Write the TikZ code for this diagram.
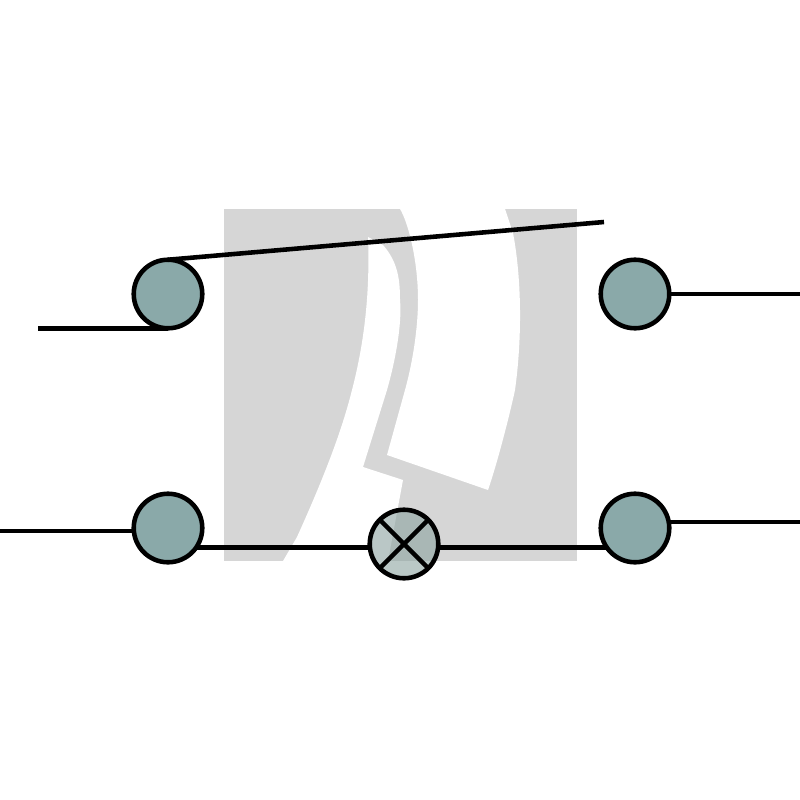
\documentclass[tikz,border=0pt]{standalone}
\definecolor{panelgray}{HTML}{D6D6D6}
\definecolor{termteal}{HTML}{8AA9A9}
\definecolor{lampteal}{HTML}{8CA3A0}
\tikzset{
  wire/.style={draw=black,line width=1.3pt},
  terminal/.style={circle,draw=black,line width=1.3pt,fill=termteal,minimum size=0.685cm,inner sep=0pt,outer sep=0pt},
  lampbody/.style={circle,draw=black,line width=1.3pt,fill=lampteal,fill opacity=0.6,draw opacity=1,minimum size=0.685cm,inner sep=0pt,outer sep=0pt}
}
\begin{document}
\begin{tikzpicture}[x=0.01cm,y=-0.01cm]
\useasboundingbox (0,0) rectangle (800,800);
\fill[panelgray] (224,209) rectangle (577,561);
% white cut-outs of the pale backdrop
\fill[white] (368,237) .. controls (370,290) and (365,340) .. (352,390)
  .. controls (342,430) and (325,475) .. (297,537) -- (283,561) -- (388,561) -- (403,480) -- (363,467)
  -- (387,390) .. controls (397,355) and (402,320) .. (400,300)
  .. controls (400,280) and (398,262) .. (383,245) -- cycle;
\fill[white] (400,209) .. controls (408,222) and (418,260) .. (418,300)
  .. controls (418,330) and (412,365) .. (405,390) -- (387,455) -- (488,490)
  .. controls (500,455) and (513,400) .. (515,390)
  .. controls (522,340) and (522,280) .. (513,233) -- (505,209) -- cycle;
\node[terminal] (tl) at (168,294) {};
\node[terminal] (tr) at (635,294) {};
\node[terminal] (bl) at (168,528) {};
\node[terminal] (br) at (635,528) {};
\node[lampbody] (lamp) at (404,544) {};
\coordinate (inTop) at (38,327);
\coordinate (inBot) at (0,531);
\coordinate (leverEnd) at (604,222);
\coordinate (outTop) at (800,294);
\coordinate (outBot) at (800,522);
\draw[wire] (inTop |- tl.south) -- (tl.south);
\draw[wire] (tl.north) -- (leverEnd);
\draw[wire] (tr.east) -- (outTop);
\draw[wire] (br.10) -- (outBot |- br.10);
\draw[wire] (inBot |- bl.185) -- (bl.185);
\draw[wire] (bl.-35) -- (lamp.west |- bl.-35);
\draw[wire] (lamp.east |- br.215) -- (br.215);
\draw[wire] (lamp.45) -- (lamp.225);
\draw[wire] (lamp.135) -- (lamp.315);
\end{tikzpicture}
\end{document}
